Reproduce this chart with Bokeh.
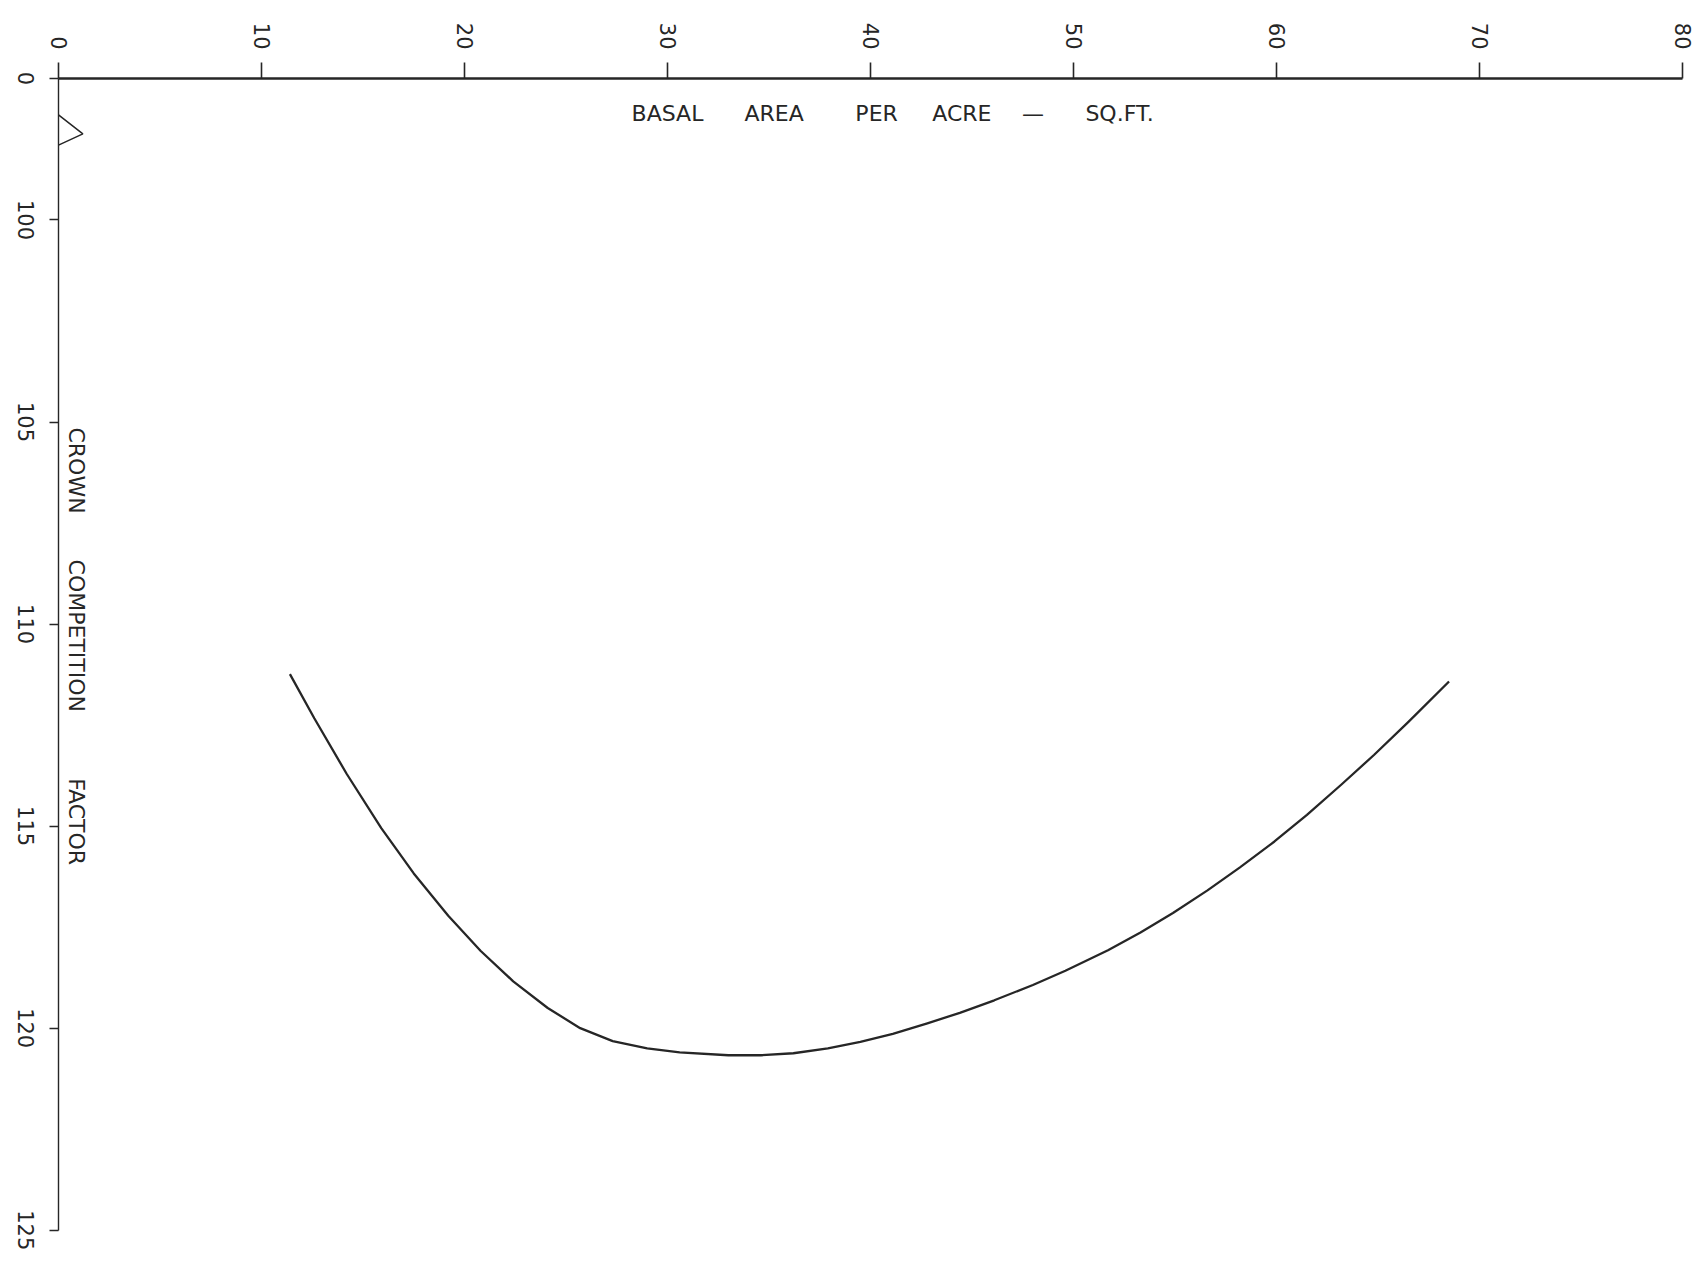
import math
from bokeh.plotting import figure
from bokeh.models import FixedTicker, Label, LinearAxis, Range1d
from bokeh.embed import file_html
from bokeh.resources import INLINE

# ---- data ----
basal_area = [11.4, 12.6, 14.2, 15.9, 17.5, 19.2, 20.8, 22.4, 24.1, 25.7, 27.3, 29.0,
              30.6, 33.0, 34.6, 36.2, 37.9, 39.5, 41.1, 42.8, 44.4, 46.1, 48.0, 49.6,
              51.7, 53.3, 54.9, 56.6, 58.2, 59.9, 61.5, 63.2, 64.8, 66.5, 68.5]
ccf = [111.24, 112.33, 113.71, 115.05, 116.17, 117.22, 118.09, 118.84, 119.50, 120.00,
       120.32, 120.50, 120.60, 120.67, 120.67, 120.62, 120.50, 120.34, 120.14, 119.88,
       119.62, 119.31, 118.93, 118.58, 118.07, 117.63, 117.15, 116.59, 116.02, 115.38,
       114.72, 113.97, 113.24, 112.42, 111.42]

x_ticks = [0, 10, 20, 30, 40, 50, 60, 70, 80]
y_ticks = [96.5, 100, 105, 110, 115, 120, 125]
y_tick_labels = ["0", "100", "105", "110", "115", "120", "125"]

x_title_words = ["BASAL", "AREA", "PER", "ACRE", "\u2014", "SQ.FT."]
x_title_centers = [30.0, 35.25, 40.3, 44.5, 48.0, 52.27]
y_title_words = ["CROWN", "COMPETITION", "FACTOR"]
y_title_centers = [106.2, 110.29, 114.89]

INK = "#262626"
FONT = "DejaVu Sans"
TICK_FS = 21              # px
TITLE_FS = "22px"
Y_PX_PER_UNIT = 40.4      # frame height / y span (1151 px / 28.5)

p = figure(width=1696, height=1262,
           x_range=Range1d(0, 80), y_range=Range1d(125.6, 96.5),
           x_axis_location="above", y_axis_location="left",
           output_backend="svg", toolbar_location=None,
           min_border_left=58, min_border_top=78,
           min_border_right=14, min_border_bottom=8)

p.background_fill_color = "white"
p.border_fill_color = "white"
p.outline_line_color = None
p.grid.visible = False

# ---- top (x) axis ----
xa = p.xaxis[0]
xa.ticker = FixedTicker(ticks=x_ticks)
xa.major_tick_out = 16
xa.major_tick_in = 0
xa.minor_tick_line_color = None
xa.axis_line_width = 2.4
xa.axis_line_color = INK
xa.major_tick_line_color = INK
xa.major_tick_line_width = 1.6
xa.major_label_orientation = -math.pi / 2
xa.major_label_standoff = 13
xa.major_label_text_font = FONT
xa.major_label_text_font_size = f"{TICK_FS}px"
xa.major_label_text_color = INK

# ---- left (y) axis: line and ticks ----
ya = p.yaxis[0]
ya.ticker = FixedTicker(ticks=y_ticks)
ya.bounds = (y_ticks[0], y_ticks[-1])
ya.major_label_overrides = {t: "" for t in y_ticks}
ya.major_tick_out = 9
ya.major_tick_in = 0
ya.minor_tick_line_color = None
ya.axis_line_width = 1.4
ya.axis_line_color = INK
ya.major_tick_line_color = INK
ya.major_tick_line_width = 1.4
ya.major_label_standoff = 0
ya.major_label_text_font_size = "1px"

# ---- left (y) axis: rotated tick labels, centred on their ticks ----
# rotated labels are end-anchored, so shift each anchor by half its length
digit_w = 0.636 * TICK_FS
lab_pos = [t + 0.5 * len(s) * digit_w / Y_PX_PER_UNIT for t, s in zip(y_ticks, y_tick_labels)]
ya_lab = LinearAxis(ticker=FixedTicker(ticks=lab_pos),
                    major_label_overrides={v: s for v, s in zip(lab_pos, y_tick_labels)},
                    axis_line_color=None, major_tick_line_color=None,
                    minor_tick_line_color=None, major_tick_out=0, major_tick_in=0,
                    major_label_standoff=24,
                    major_label_orientation=-math.pi / 2,
                    major_label_text_font=FONT,
                    major_label_text_font_size=f"{TICK_FS}px",
                    major_label_text_color=INK)
p.add_layout(ya_lab, "left")

# ---- the curve ----
p.line(basal_area, ccf, line_color=INK, line_width=2.3, line_join="round")

# ---- axis break symbol on the y axis (part inside the frame) ----
p.line([0, 1.2, 0], [97.4, 97.87, 98.15], line_color=INK, line_width=1.5)

# ---- axis titles, inside the frame as in the reference ----
for w, cx in zip(x_title_words, x_title_centers):
    p.add_layout(Label(x=cx, y=97.37, text=w, text_align="center",
                       text_baseline="alphabetic", text_font=FONT,
                       text_font_size=TITLE_FS, text_color=INK))
for w, cy in zip(y_title_words, y_title_centers):
    p.add_layout(Label(x=0.88, y=cy, text=w, angle=-math.pi / 2,
                       text_align="center", text_baseline="alphabetic",
                       text_font=FONT, text_font_size=TITLE_FS, text_color=INK))

open("out.html", "w").write(file_html(p, INLINE))
